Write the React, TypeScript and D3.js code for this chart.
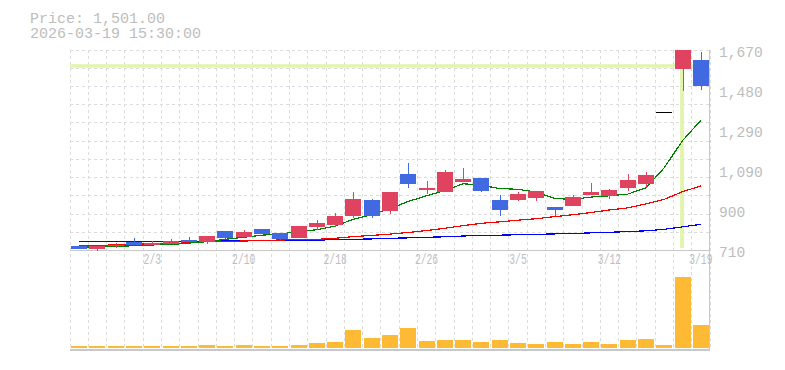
import React from "react";
import * as d3 from "d3";

const dates = ["1/28","1/29","1/30","2/2","2/3","2/4","2/5","2/6","2/9","2/10","2/12","2/13","2/16","2/17","2/18","2/19","2/20","2/24","2/25","2/26","2/27","3/2","3/3","3/4","3/5","3/6","3/9","3/10","3/11","3/12","3/13","3/16","3/17","3/18","3/19"];
const opens = [734,720,734,755,739,742,764,755,806,777,816,798,774,827,835,878,955,902,1080,1004,993,1043,1060,955,955,966,921,926,979,974,1012,1032,1376,1585,1627];
const highs = [734,734,748,772,758,768,777,782,806,812,816,798,831,859,892,993,958,993,1132,1046,1099,1108,1060,979,993,998,921,979,1036,1008,1080,1089,1376,1679,1667];
const lows = [720,711,726,739,739,742,755,744,766,777,793,761,774,809,824,867,867,888,1014,984,993,1043,993,878,950,950,879,926,979,960,998,1017,1376,1479,1484];
const closes = [720,734,739,739,750,759,755,782,772,801,793,768,831,844,878,960,878,993,1032,1012,1089,1056,998,907,984,998,907,969,993,1003,1051,1075,1376,1679,1501];
const volumes = [17000,17000,17000,17000,17000,17000,17000,27000,17000,27000,17000,17000,27000,50000,60000,177000,100000,127000,200000,70000,77000,77000,60000,77000,50000,40000,60000,40000,60000,40000,77000,87000,27000,710000,227000];
const ma5 = [729,730,733,735,739,741,748,755,766,776,786,792,803,812,830,862,884,913,948,975,1000,1033,1025,1010,1006,993,962,958,969,975,983,1013,1110,1240,1337];
const ma25 = [735,736,740,742,745,745,750,755,755,758,760,763,764,766,771,779,785,791,799,808,819,832,843,850,858,865,875,884,895,907,917,936,958,995,1022];
const ma75 = [756,756,756,756,756,756,757,757,758,758,760,760,761,762,765,766,768,771,773,776,778,782,785,786,788,790,792,794,797,800,803,807,814,826,838];
const yTickValues = [710, 902, 1094, 1286, 1478, 1670];
const yTickLabels = ["710", "900", "1,090", "1,290", "1,480", "1,670"];
const xTickLabels = ["2/3", "2/10", "2/18", "2/26", "3/5", "3/12", "3/19"];
const priceLabel = "Price: 1,501.00";
const timeLabel = "2026-03-19 15:30:00";
const crosshairDate = "3/18";
const crosshairPrice = 1597;

const W = 785, H = 370;
const L = 70, R = 710;
const PT = 51, PB = 251;
const GRID_TOP = 50, GRID_BOTTOM = 250.7;
const VB = 348, VT = 268, VAXIS = 350;

const UP = "#e0435f";
const DOWN = "#4169e1";
const FLAT = "#000000";
const GRID = "#dcdcdc";
const AXIS = "#c8c8c8";
const TEXT = "#bdbdbd";
const CROSS = "#e3f5ad";
const VOL = "#feb935";
const FONT = "'Liberation Mono', 'DejaVu Sans Mono', monospace";

export default function App() {
  const x = d3.scaleBand<string>().domain(dates).range([L, R]).padding(0);
  const bw = x.bandwidth();
  const body = bw - 2.3;
  const cx = (d: string) => (x(d) as number) + bw / 2;
  const y = d3.scaleLinear().domain([710, 1670]).range([PB, PT]);
  const yv = d3.scaleLinear().domain([0, 800000]).range([VB, VT]);

  const gridYs = d3.range(12).map((k) => GRID_TOP + (k * (GRID_BOTTOM - GRID_TOP)) / 11);
  const gridXs = d3.range(dates.length + 1).map((k) => L + k * bw);

  const line = (vals: number[]) =>
    d3.line<number>().x((_, i) => cx(dates[i])).y((v) => y(v))(vals) || "";

  return (
    <svg width={W} height={H} style={{ position: "absolute", left: 0, top: 0, background: "#fff" }}>
      <defs>
        <clipPath id="pclip">
          <rect x={L} y={GRID_TOP} width={R - L} height={PB - GRID_TOP} />
        </clipPath>
      </defs>
      {/* grid */}
      <g stroke={GRID} strokeWidth={1} strokeDasharray="3,3" shapeRendering="crispEdges">
        {gridYs.slice(0, 11).map((gy, i) => (
          <line key={"h" + i} x1={L} x2={R} y1={gy} y2={gy} />
        ))}
        {gridXs.map((gx, i) => (
          <line key={"v" + i} x1={gx} x2={gx} y1={GRID_TOP} y2={VAXIS} />
        ))}
      </g>
      {/* axes */}
      <g stroke={AXIS} strokeWidth={1.3} shapeRendering="crispEdges">
        <line x1={L} x2={R} y1={GRID_BOTTOM} y2={GRID_BOTTOM} />
        <line x1={L} x2={R} y1={VAXIS} y2={VAXIS} />
        <line x1={R - 0.5} x2={R - 0.5} y1={GRID_TOP} y2={VAXIS} />
      </g>
      {/* crosshair */}
      <g fill={CROSS}>
        <rect x={L} y={y(crosshairPrice) - 2} width={R - L} height={3.5} />
        <rect x={cx(crosshairDate) - 2.5} y={GRID_TOP} width={4} height={248 - GRID_TOP} />
      </g>
      <g clipPath="url(#pclip)">
        {/* moving averages */}
        <g fill="none" strokeWidth={1.2} shapeRendering="crispEdges">
          <path d={line(ma75)} stroke="#0000ff" />
          <path d={line(ma25)} stroke="#ff0000" />
          <path d={line(ma5)} stroke="#008000" />
        </g>
        {/* candles */}
        {dates.map((d, i) => {
          const o = opens[i], c = closes[i];
          const col = c > o ? UP : c < o ? DOWN : FLAT;
          const top = y(Math.max(o, c));
          const bot = y(Math.min(o, c));
          const xc = Math.round(cx(d)) + 0.5;
          if (c === o) {
            return (
              <line key={d} x1={cx(d) - body / 2} x2={cx(d) + body / 2} y1={top} y2={top}
                stroke={col} strokeWidth={1.3} shapeRendering="crispEdges" />
            );
          }
          return (
            <g key={d}>
              <line x1={xc} x2={xc} y1={y(highs[i])} y2={y(lows[i])} stroke={col} strokeWidth={1.2} shapeRendering="crispEdges" />
              <rect x={cx(d) - body / 2} y={top} width={body} height={Math.max(1, bot - top)} fill={col} shapeRendering="crispEdges" />
            </g>
          );
        })}
      </g>
      {/* volume */}
      <g fill={VOL} shapeRendering="crispEdges">
        {dates.map((d, i) => (
          <rect key={d} x={cx(d) - body / 2} y={yv(volumes[i])} width={body} height={VB - yv(volumes[i])} />
        ))}
      </g>
      {/* y labels */}
      <g fill={TEXT} fontFamily={FONT} fontSize={14.6}>
        {yTickValues.map((v, i) => (
          <text key={v} x={719} y={y(v) + 6}>{yTickLabels[i]}</text>
        ))}
      </g>
      {/* x labels */}
      <g fill={TEXT} fontFamily={FONT} fontSize={14.5} textAnchor="middle">
        {xTickLabels.map((lab) => (
          <text key={lab} x={cx(lab)} y={264} textLength={lab.length * 5.8} lengthAdjust="spacingAndGlyphs">{lab}</text>
        ))}
      </g>
      {/* header */}
      <g fill={TEXT} fontFamily={FONT} fontSize={15}>
        <text x={30} y={22.5}>{priceLabel}</text>
        <text x={30} y={37.7}>{timeLabel}</text>
      </g>
    </svg>
  );
}
